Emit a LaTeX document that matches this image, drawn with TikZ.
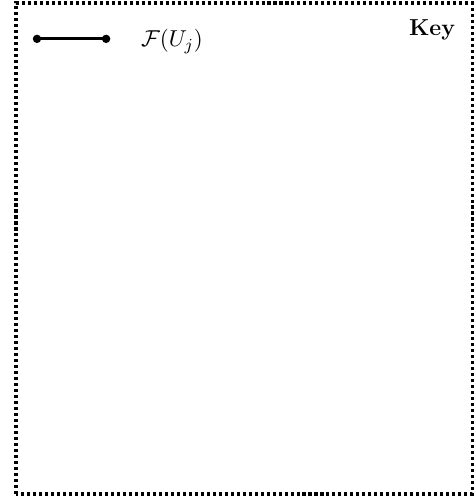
\documentclass[tikz,border=0pt]{standalone}
\usepackage{amsmath,amssymb}
\usepackage{tikz}
\usetikzlibrary{positioning}

\begin{document}
\begin{tikzpicture}[x=1pt,y=1pt]
				
				\tikzset{key box/.style={
						line width=1.5pt,
						dash pattern=on 1.45pt off 1.4pt
					},
					key line/.style={line width=1.5pt},
					key dot/.style={fill=black, radius=2pt},
					key text/.style={font=\fontsize{11}{13}\selectfont}
				}
				
				\useasboundingbox (0,0) rectangle (226,237);
				
				\draw[key box] (7.6,1.9) rectangle (224.7,235.6);
				
				\node[key text, font=\fontsize{11}{13}\selectfont\bfseries] (key) at (205.6,223) {Key};
				
				\coordinate (fstart) at (17.6,218.5);
				\coordinate (fend) at (50.5,218.5);
				\draw[key line] (fstart) -- (fend);
				\fill[key dot] (fstart) circle;
				\fill[key dot] (fend) circle;
				\node[key text] (flabel) at (81.8,217.3) {$\mathcal{F}(U_j)$};
				
				\end{tikzpicture}
\end{document}
